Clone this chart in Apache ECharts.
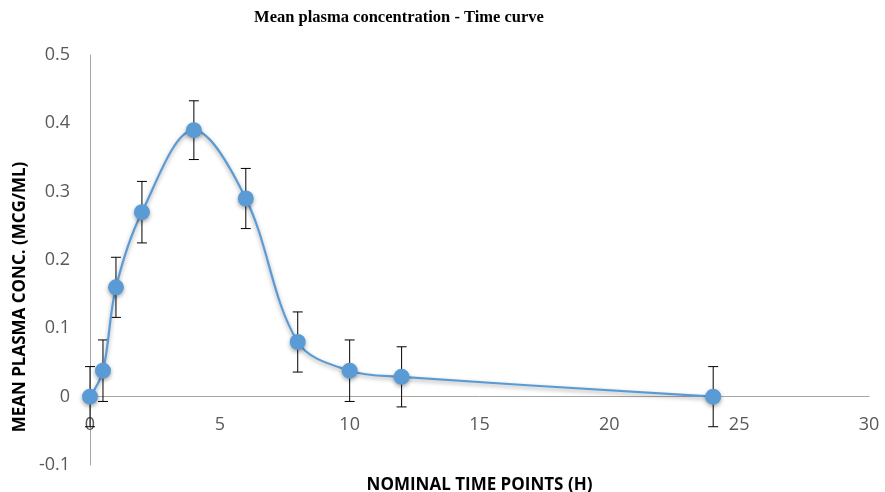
<!DOCTYPE html>
<html><head><meta charset="utf-8">
<script src="https://cdn.jsdelivr.net/npm/echarts@6/dist/echarts.min.js"></script>
<style>html,body{margin:0;padding:0;background:#fff}#c{width:885px;height:492px}</style>
</head><body><div id="c"></div>
<script>
const times = [0, 0.5, 1, 2, 4, 6, 8, 10, 12, 24];
const conc = [0, 0.038, 0.16, 0.27, 0.39, 0.29, 0.08, 0.038, 0.029, 0];
const sd = [0.044, 0.045, 0.044, 0.045, 0.043, 0.044, 0.044, 0.045, 0.044, 0.044];
const yTicks = [-0.1, 0, 0.1, 0.2, 0.3, 0.4, 0.5];
const xTicks = [0, 5, 10, 15, 20, 25, 30];
const titleText = 'Mean plasma concentration - Time curve';
const xName = 'NOMINAL TIME POINTS (H)';
const yName = 'MEAN PLASMA CONC. (MCG/ML)';

const lineData = times.map((t, i) => [t, conc[i]]);
const errData = times.map((t, i) => [t, conc[i] - sd[i], conc[i] + sd[i]]);

const chart = echarts.init(document.getElementById('c'));
chart.setOption({
  animation: false,
  graphic: [
    {type: 'text', x: 399, y: 18, style: {text: titleText, align: 'center', verticalAlign: 'middle',
      font: 'bold 16.5px "Liberation Serif"', fill: '#000'}},
    {type: 'text', x: 20, y: 297, rotation: Math.PI / 2, style: {text: yName, align: 'center', verticalAlign: 'middle',
      font: 'bold 17px "Open Sans"', fill: '#000'}}
  ],
  grid: {left: 90, right: 16, top: 55, bottom: 27, outerBoundsMode: 'none', containLabel: false},
  xAxis: {
    type: 'value', min: xTicks[0], max: xTicks[xTicks.length - 1], interval: 5,
    name: xName, nameLocation: 'middle', nameGap: 12,
    nameTextStyle: {fontFamily: 'Open Sans', fontWeight: 'bold', fontSize: 17, color: '#000'},
    axisLine: {onZero: true, lineStyle: {color: '#a6a6a6', width: 1}},
    axisTick: {show: false},
    splitLine: {show: false},
    axisLabel: {margin: -49, fontFamily: 'Open Sans', fontSize: 18, color: '#595959'}
  },
  yAxis: {
    type: 'value', min: yTicks[0], max: yTicks[yTicks.length - 1], interval: 0.1,
    axisLine: {show: true, lineStyle: {color: '#a6a6a6', width: 1}},
    axisTick: {show: false},
    splitLine: {show: false},
    axisLabel: {margin: 20, fontFamily: 'Open Sans', fontSize: 18, color: '#595959',
      formatter: v => String(Math.round(v * 10) / 10)}
  },
  series: [
    {
      type: 'custom',
      data: errData,
      z: 3,
      renderItem: function (params, api) {
        const x = api.value(0);
        const lo = api.coord([x, api.value(1)]);
        const hi = api.coord([x, api.value(2)]);
        const w = 5;
        const style = {stroke: '#000', lineWidth: 1};
        return {
          type: 'group',
          children: [
            {type: 'line', shape: {x1: lo[0], y1: lo[1], x2: hi[0], y2: hi[1]}, style},
            {type: 'line', shape: {x1: lo[0] - w, y1: lo[1], x2: lo[0] + w, y2: lo[1]}, style},
            {type: 'line', shape: {x1: hi[0] - w, y1: hi[1], x2: hi[0] + w, y2: hi[1]}, style}
          ]
        };
      }
    },
    {
      type: 'line',
      data: lineData,
      smooth: 0.35,
      z: 4,
      symbol: 'circle',
      symbolSize: 16,
      lineStyle: {color: '#5b9bd5', width: 2.2, shadowColor: 'rgba(0,0,0,0.35)', shadowBlur: 4, shadowOffsetY: 2},
      itemStyle: {color: '#5b9bd5', shadowColor: 'rgba(0,0,0,0.35)', shadowBlur: 4, shadowOffsetY: 2}
    }
  ]
});
</script>
</body></html>
